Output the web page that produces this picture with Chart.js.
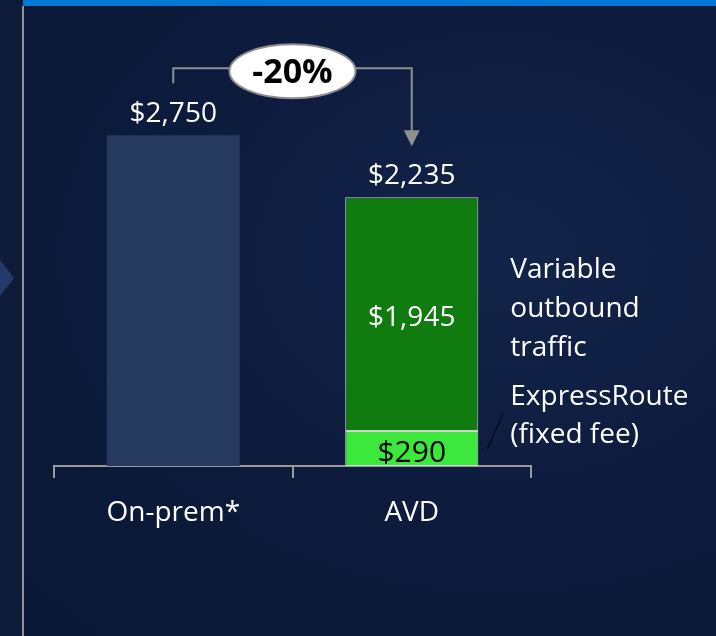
<!DOCTYPE html>
<html>
<head>
<meta charset="utf-8">
<script src="https://cdn.jsdelivr.net/npm/chart.js@4.4.1/dist/chart.umd.min.js"></script>
<style>
  html, body { margin: 0; padding: 0; }
  body {
    width: 716px; height: 636px; overflow: hidden; position: relative;
    background: radial-gradient(ellipse at 70% 40%, #13244a 0%, #0c1a3b 55%, #0a1836 100%);
  }
  #leftStrip { position: absolute; left: 0; top: 0; width: 23px; height: 636px; background: #0e1c3a; }
  #topBar { position: absolute; left: 23px; top: 0; width: 693px; height: 6px; background: #0078d4; }
  #vline { position: absolute; left: 22px; top: 6px; width: 2px; height: 630px; background: #8e939c; }
  #chevron {
    position: absolute; left: 0; top: 260px; width: 0; height: 0;
    border-top: 18px solid transparent; border-bottom: 18px solid transparent;
    border-left: 14px solid #243a6b;
  }
  #wrap { position: absolute; left: 0; top: 0; width: 716px; height: 636px; }
</style>
</head>
<body>
<div id="leftStrip"></div>
<div id="topBar"></div>
<div id="vline"></div>
<div id="chevron"></div>
<div id="wrap"><canvas id="chart" width="716" height="636"></canvas></div>
<script>
// dados
const categories = ['On-prem*', 'AVD'];
const onPrem = [2750, null];
const expressRoute = [null, 290];
const variableTraffic = [null, 1945];
const totals = [2750, 2235];
const changeLabel = '-20%';
const sideLabels = [['Variable', 'outbound', 'traffic'], ['ExpressRoute', '(fixed fee)']];

const FONT = '"Open Sans", "Noto Sans", sans-serif';
const money = v => '$' + v.toLocaleString('en-US');

// rótulos, seta e elipse desenhados por cima
const annotations = {
  id: 'annotations',
  afterDatasetsDraw(chart) {
    const ctx = chart.ctx;
    const x = chart.scales.x, y = chart.scales.y;
    const x0 = x.getPixelForValue(0), x1 = x.getPixelForValue(1);
    const barRight = chart.getDatasetMeta(2).data[1];
    const right = barRight.x + barRight.width / 2;

    ctx.save();
    ctx.font = '28px ' + FONT;
    ctx.textAlign = 'center';
    ctx.textBaseline = 'alphabetic';
    ctx.fillStyle = '#ffffff';

    // totais acima das barras
    totals.forEach((t, i) => {
      ctx.fillText(money(t), x.getPixelForValue(i), y.getPixelForValue(t) - 13);
    });

    // segmentos
    const vMid = (y.getPixelForValue(expressRoute[1]) + y.getPixelForValue(expressRoute[1] + variableTraffic[1])) / 2;
    ctx.fillText(money(variableTraffic[1]), x1, vMid + 12);
    const eMid = (y.getPixelForValue(0) + y.getPixelForValue(expressRoute[1])) / 2;
    ctx.fillStyle = '#000000';
    ctx.font = '30px ' + FONT;
    ctx.fillText(money(expressRoute[1]), x1, eMid + 13);

    // textos à direita
    ctx.font = '28px ' + FONT;
    ctx.fillStyle = '#ffffff';
    ctx.textAlign = 'left';
    const tx = right + 32;
    sideLabels[0].forEach((s, i) => ctx.fillText(s, tx, vMid - 36 + i * 39));
    const split = y.getPixelForValue(expressRoute[1]);
    sideLabels[1].forEach((s, i) => ctx.fillText(s, tx, split - 26 + i * 38));

    // linha guia
    ctx.strokeStyle = '#000000';
    ctx.lineWidth = 1;
    ctx.beginPath();
    ctx.moveTo(right + 9, split + 18);
    ctx.lineTo(right + 25, split - 18);
    ctx.stroke();

    // colchete com seta
    const yTop0 = y.getPixelForValue(totals[0]);
    const yTop1 = y.getPixelForValue(totals[1]);
    const bracketY = yTop0 - 67;
    ctx.strokeStyle = '#8f8f8f';
    ctx.lineWidth = 2;
    ctx.beginPath();
    ctx.moveTo(x0, yTop0 - 52);
    ctx.lineTo(x0, bracketY);
    ctx.lineTo(x1, bracketY);
    ctx.lineTo(x1, yTop1 - 66);
    ctx.stroke();
    ctx.fillStyle = '#8f8f8f';
    ctx.beginPath();
    ctx.moveTo(x1 - 8, yTop1 - 67);
    ctx.lineTo(x1 + 8, yTop1 - 67);
    ctx.lineTo(x1, yTop1 - 51);
    ctx.closePath();
    ctx.fill();

    // elipse
    const cx = (x0 + x1) / 2, cy = bracketY + 3;
    ctx.beginPath();
    ctx.ellipse(cx, cy, 63, 27, 0, 0, Math.PI * 2);
    ctx.fillStyle = '#ffffff';
    ctx.fill();
    ctx.strokeStyle = '#8f8f8f';
    ctx.lineWidth = 2;
    ctx.stroke();
    ctx.fillStyle = '#000000';
    ctx.textAlign = 'center';
    ctx.font = 'bold 34px ' + FONT;
    ctx.fillText(changeLabel, cx, cy + 12);
    ctx.restore();
  }
};

new Chart(document.getElementById('chart').getContext('2d'), {
  type: 'bar',
  data: {
    labels: categories,
    datasets: [
      { label: 'On-prem', data: onPrem, backgroundColor: '#26395f', borderWidth: 0 },
      { label: 'ExpressRoute (fixed fee)', data: expressRoute, backgroundColor: '#3be83b',
        borderColor: '#cfd3cf', borderWidth: 1, borderSkipped: false },
      { label: 'Variable outbound traffic', data: variableTraffic, backgroundColor: '#107c10',
        borderColor: '#cfd3cf', borderWidth: 1, borderSkipped: false }
    ]
  },
  options: {
    responsive: false,
    animation: false,
    devicePixelRatio: 1,
    layout: { padding: { left: 54, right: 185, top: 45, bottom: 0 } },
    datasets: { bar: { categoryPercentage: 1, barPercentage: 0.558 } },
    plugins: { legend: { display: false }, tooltip: { enabled: false } },
    scales: {
      x: {
        stacked: true,
        afterFit: s => { s.height = 170; },
        grid: { offset: true, drawOnChartArea: false, drawTicks: true, tickLength: 12, color: '#9a9a9a', lineWidth: 2 },
        border: { display: true, color: '#9a9a9a', width: 2 },
        ticks: { color: '#ffffff', font: { family: FONT, size: 28 }, padding: 18 }
      },
      y: {
        stacked: true,
        display: false,
        min: 0,
        max: 3500
      }
    }
  },
  plugins: [annotations]
});
</script>
</body>
</html>
